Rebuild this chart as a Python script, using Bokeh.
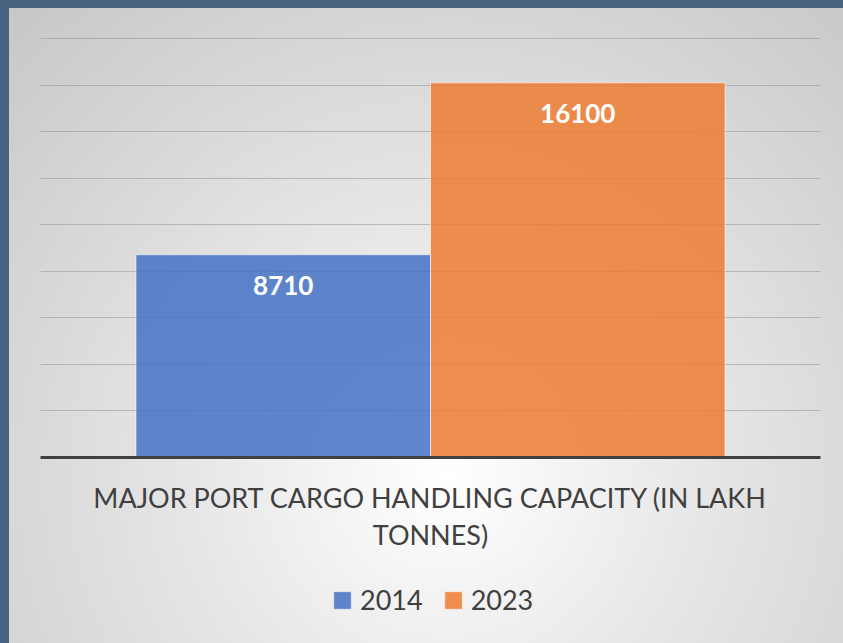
from bokeh.plotting import figure
from bokeh.layouts import column
from bokeh.models import ColumnDataSource, FactorRange, SingleIntervalTicker, Legend, LegendItem
from bokeh.transform import dodge
from bokeh.core.properties import value
from bokeh.embed import file_html
from bokeh.resources import INLINE

CATEGORY = "MAJOR PORT CARGO HANDLING CAPACITY (IN LAKH\nTONNES)"
SERIES = ["2014", "2023"]
VALUES = [8710, 16100]
COLORS = ["#4472C4", "#ED7D31"]
OFFSETS = [-0.25, 0.25]
Y_MAX = 18000
Y_STEP = 2000

FONT = "Lato"
TEXT_COLOR = "#404040"
W, H, H_MAIN = 843, 643, 560

xr = FactorRange(factors=[CATEGORY], range_padding=0.3243, range_padding_units="percent")

p = figure(
    width=W, height=H_MAIN, x_range=xr, y_range=(0, Y_MAX + 43),
    y_axis_location=None, output_backend="svg", toolbar_location=None,
    min_border_left=40, min_border_right=23, min_border_top=37, min_border_bottom=H_MAIN - 457,
)
p.background_fill_alpha = 0
p.border_fill_alpha = 0
p.outline_line_color = None

lp = figure(
    width=W, height=H - H_MAIN, x_range=xr, y_range=(0, Y_MAX),
    x_axis_location=None, y_axis_location=None, output_backend="svg", toolbar_location=None,
    min_border=0,
)
lp.background_fill_alpha = 0
lp.border_fill_alpha = 0
lp.outline_line_color = None
lp.grid.visible = False

items = []
for i, name in enumerate(SERIES):
    src = ColumnDataSource(dict(cat=[CATEGORY], val=[VALUES[i]], label=[str(VALUES[i])]))
    x = dodge("cat", OFFSETS[i], range=xr)
    bar_style = dict(x=x, top="val", width=0.5, source=src,
                     fill_color=COLORS[i], fill_alpha=0.85,
                     line_color="white", line_alpha=0.55, line_width=1)
    p.vbar(**bar_style)
    p.text(x=x, y="val", text="label", source=src,
           text_color="white", text_font=value(FONT), text_font_style="bold",
           text_font_size="26px", text_align="center", text_baseline="middle",
           y_offset=31)
    r = lp.vbar(**bar_style)
    r.visible = False
    items.append(LegendItem(label=name, renderers=[r]))

p.xgrid.visible = False
p.ygrid.ticker = SingleIntervalTicker(interval=Y_STEP)
p.ygrid.grid_line_color = "#9a9a9a"
p.ygrid.grid_line_alpha = 0.6
p.ygrid.grid_line_width = 1

ax = p.xaxis[0]
ax.axis_line_color = TEXT_COLOR
ax.axis_line_width = 3
ax.major_tick_line_color = None
ax.minor_tick_line_color = None
ax.major_label_text_font = FONT
ax.major_label_text_font_size = "27px"
ax.major_label_text_color = TEXT_COLOR
ax.major_label_standoff = 17
ax.major_label_text_line_height = 1.15

legend = Legend(items=items, orientation="horizontal", location=(281, 17),
                label_text_font=FONT, label_text_font_size="27px",
                label_text_color=TEXT_COLOR,
                glyph_width=22, glyph_height=22, label_standoff=7, spacing=19,
                background_fill_alpha=0, border_line_alpha=0,
                inactive_fill_alpha=0, margin=0, padding=10)
lp.add_layout(legend, "center")

layout = column(p, lp, spacing=0)
layout.styles = {
    "position": "absolute", "left": "0px", "top": "0px",
    "background": "radial-gradient(circle farthest-corner at 53% 74%, #ffffff 0%, #e6e6e6 40%, #c6c6c6 100%)",
    "box-shadow": "inset 9px 8px 0 0 #46627f",
}

open("out.html", "w").write(file_html(layout, INLINE))
